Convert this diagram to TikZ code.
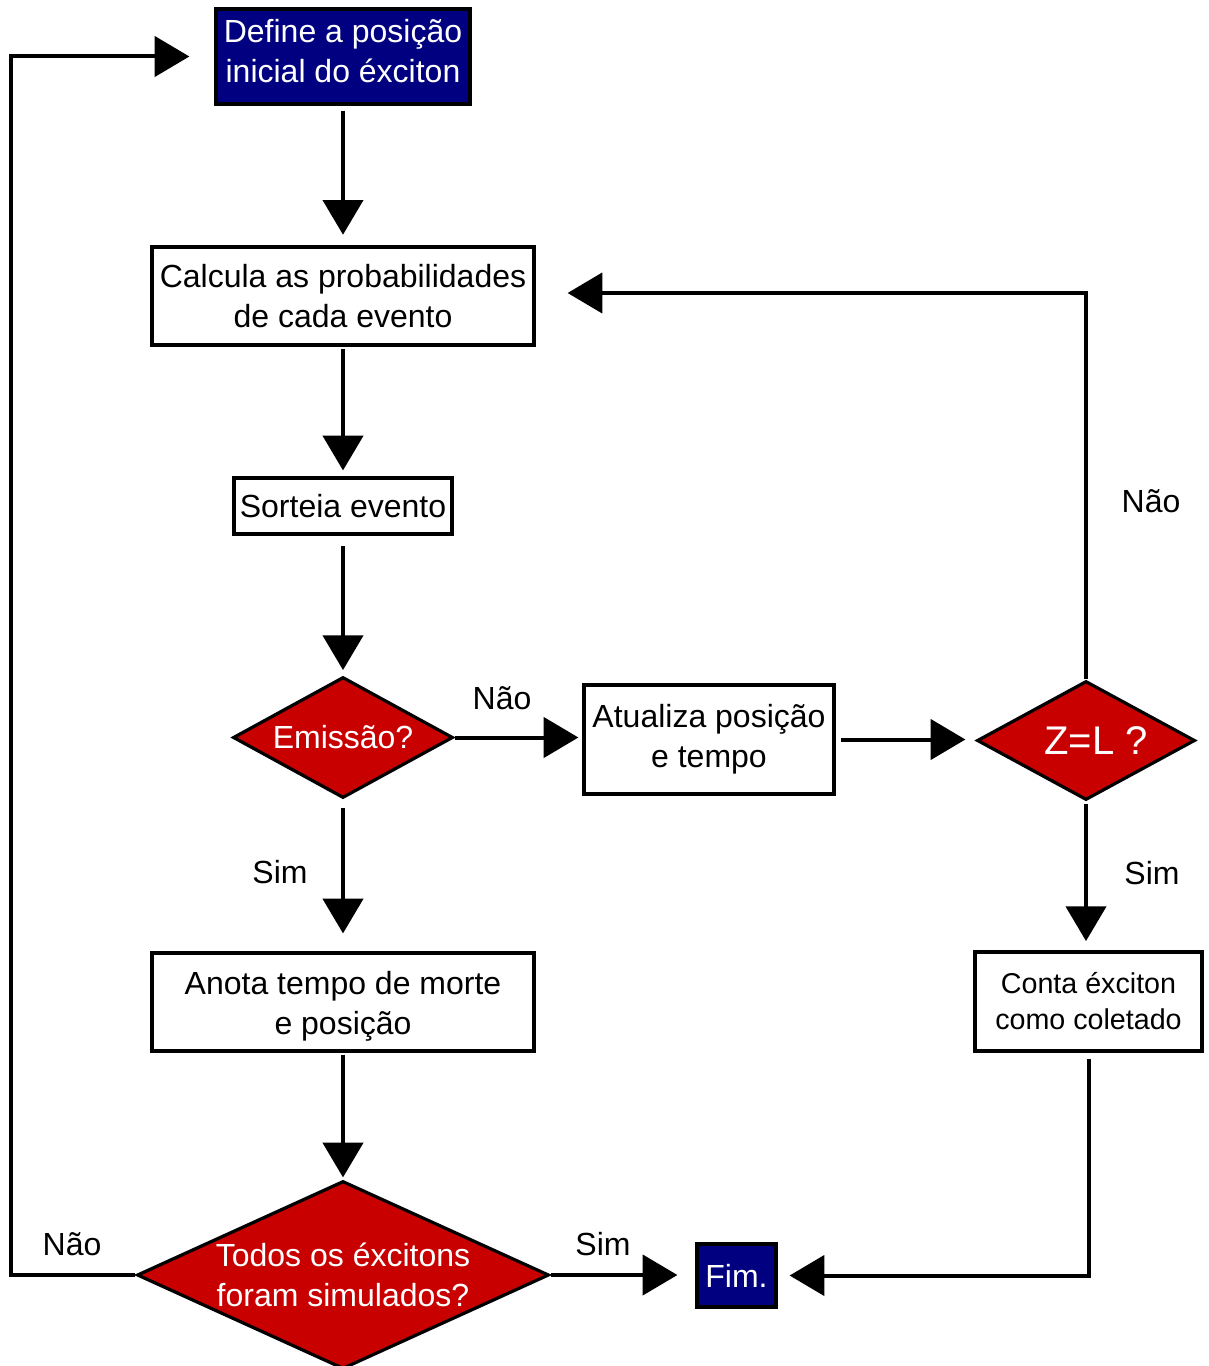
\documentclass[tikz,border=0pt]{standalone}
\usepackage{fontspec}
\setmainfont{Liberation Sans}
\usetikzlibrary{arrows.meta,shapes.geometric}
\definecolor{navybox}{RGB}{0,0,128}
\definecolor{redbox}{RGB}{200,0,0}
\newcommand\pxu{0.75pt}
\begin{document}
\begin{tikzpicture}[x=0.75pt,y=-0.75pt,
  font=\fontsize{24}{30}\selectfont,
  box/.style={draw=black, line width=2.4pt, fill=white, inner sep=0pt, align=center},
  navy/.style={box, fill=navybox, text=white},
  dec/.style={diamond, draw=black, line width=2.4pt, fill=redbox, inner sep=0pt, text=white, align=center},
  arr/.style={line width=3pt, -{Triangle[length=26pt,width=30pt]}},
  lbl/.style={inner sep=0pt}
]
\useasboundingbox (0,0) rectangle (1208,1366);
\clip (0,0) rectangle (1208,1366);

\node[navy, minimum width=254*\pxu, minimum height=95*\pxu] (define) at (343,56.5) {Define a posição\\inicial do éxciton\rule[-8pt]{0pt}{8pt}};
\node[box, minimum width=382*\pxu, minimum height=98*\pxu] (calcula) at (343,296) {Calcula as probabilidades\\de cada evento};
\node[box, minimum width=218*\pxu, minimum height=56*\pxu] (sorteia) at (343,506) {Sorteia evento};
\node[dec, aspect=1.82, minimum width=220*\pxu, minimum height=121*\pxu] (emissao) at (343,737.5) {Emissão?};
\node[box, minimum width=250*\pxu, minimum height=109*\pxu] (atualiza) at (709,739.5) {Atualiza posição\\e tempo};
\node[dec, aspect=1.83, minimum width=218*\pxu, minimum height=119*\pxu, font=\fontsize{30}{36}\selectfont] (zl) at (1086,740.5) {\hspace*{15pt}Z=L ?};
\node[box, minimum width=382*\pxu, minimum height=98*\pxu] (anota) at (343,1002) {\rule{0pt}{23.5pt}Anota tempo de morte\\e posição};
\node[box, minimum width=227*\pxu, minimum height=99*\pxu, font=\fontsize{21.5}{27}\selectfont] (conta) at (1088.5,1001.5) {Conta éxciton\\como coletado};
\node[dec, aspect=2.19, minimum width=412*\pxu, minimum height=188*\pxu] (todos) at (343,1275) {Todos os éxcitons\\foram simulados?};
\node[navy, minimum width=79*\pxu, minimum height=63*\pxu] (fim) at (736.5,1275.5) {Fim.};

\coordinate (cornerL) at (11,1274);

\draw[arr, shorten <=3.75pt, shorten >=8pt] (define.south) -- (calcula.north);
\draw[arr, shorten <=1.5pt, shorten >=4.5pt] (calcula.south) -- (sorteia.north);
\draw[arr, shorten <=8pt, shorten >=4pt] (sorteia.south) -- (emissao.north);
\draw[arr, shorten >=3pt] (emissao.east) -- (emissao.east -| atualiza.west);
\draw[arr, shorten <=3.75pt, shorten >=7.5pt] (atualiza.east) -- (atualiza.east -| zl.west);
\draw[arr, shorten <=6.5pt, shorten >=13.5pt] (emissao.south) -- (anota.north);
\draw[arr, shorten <=2pt, shorten >=7pt] (zl.south) -- (zl.south |- conta.north);
\draw[arr, shorten >=24pt] (zl.north) |- ([yshift=2.25pt]calcula.east);
\draw[arr, shorten <=1.5pt, shorten >=1.5pt] (anota.south) -- (todos.north);
\draw[arr, shorten >=13.5pt] (todos.east) -- (todos.east -| fim.west);
\draw[arr, shorten <=5pt, shorten >=9pt] (conta.south) |- (fim.east);
\draw[arr, shorten >=18.75pt] (todos.west) -- (todos.west -| cornerL) |- (define.west);

\node[lbl] (l1) at (502,698) {Não};
\node[lbl] (l2) at (1151,501) {Não};
\node[lbl] (l3) at (280,872) {Sim};
\node[lbl] (l4) at (1152,873) {Sim};
\node[lbl] (l5) at (603,1244) {Sim};
\node[lbl] (l6) at (72,1244) {Não};
\end{tikzpicture}
\end{document}
